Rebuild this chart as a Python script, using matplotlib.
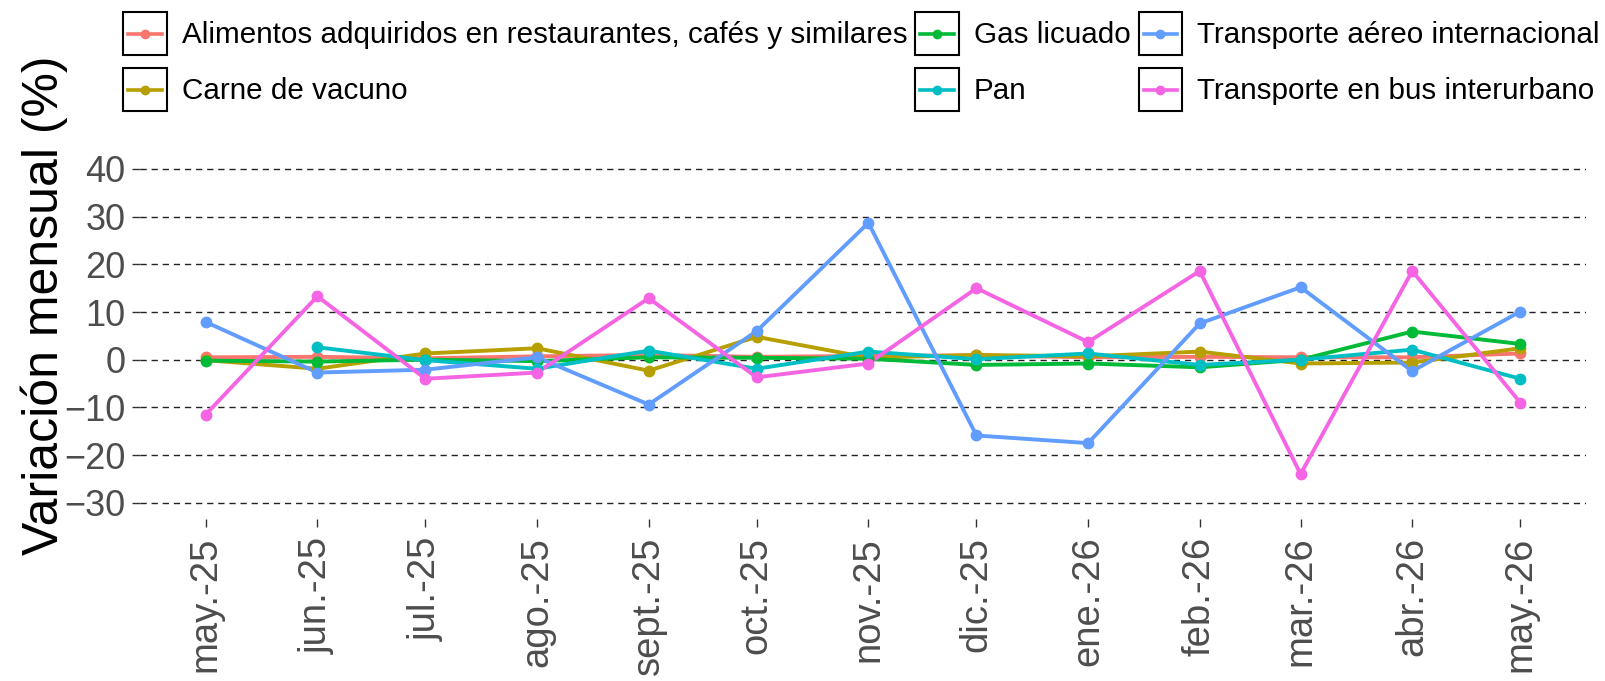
# Load libraries
import numpy as np
import pandas as pd
import matplotlib
matplotlib.use("Agg")
import matplotlib.pyplot as plt
from matplotlib.lines import Line2D
from matplotlib.patches import Rectangle
from matplotlib.legend_handler import HandlerLine2D

plt.rcParams['font.family'] = ['Liberation Sans', 'DejaVu Sans']

# Data (monthly variation, %)
months = pd.date_range('2025-05-01', periods=13, freq='MS')
month_labels = ['may.-25', 'jun.-25', 'jul.-25', 'ago.-25', 'sept.-25', 'oct.-25',
                'nov.-25', 'dic.-25', 'ene.-26', 'feb.-26', 'mar.-26', 'abr.-26', 'may.-26']

alimentos = [0.5, 0.6, 0.3, 0.7, 1.0, 0.6, 0.8, 0.9, 0.5, 0.6, 0.5, 0.5, 1.3]
carne = [-0.1, -1.9, 1.3, 2.4, -2.3, 4.8, 0.4, 1.0, 0.7, 1.7, -0.8, -0.6, 2.4]
gas = [-0.2, -0.4, 0.0, -0.3, 0.5, 0.4, 0.2, -1.1, -0.8, -1.6, 0.0, 5.9, 3.3]
pan = [np.nan, 2.6, -0.1, -1.9, 1.9, -1.9, 1.7, 0.1, 1.3, -1.1, 0.0, 2.1, -4.0]
aereo = [7.9, -2.7, -2.1, 0.5, -9.4, 6.0, 28.7, -15.9, -17.5, 7.6, 15.2, -2.4, 10.1]
bus = [-11.5, 13.3, -4.0, -2.7, 12.9, -3.7, -0.8, 15.0, 3.7, 18.6, -24.0, 18.6, -9.0]

names = ['Alimentos adquiridos en restaurantes, cafés y similares', 'Carne de vacuno',
         'Gas licuado', 'Pan', 'Transporte aéreo internacional', 'Transporte en bus interurbano']
series = [alimentos, carne, gas, pan, aereo, bus]
colors = ['#F8766D', '#B79F00', '#00BA38', '#00BFC4', '#619CFF', '#F564E3']


# legend key with a black box round it, like ggplot
class BoxedLine(HandlerLine2D):
    def create_artists(self, legend, orig_handle, xdescent, ydescent, width, height, fontsize, trans):
        artists = super().create_artists(legend, orig_handle, xdescent, ydescent, width, height, fontsize, trans)
        pad = 0.12 * width
        for a in artists:
            a.set_xdata(np.linspace(-xdescent + pad, -xdescent + width - pad, 3))
            a.set_ydata(np.full(3, -ydescent + height / 2))
        box = Rectangle((-xdescent, -ydescent), width, height, facecolor='none',
                        edgecolor='black', lw=1.5, transform=trans)
        return artists + [box]


fig = plt.figure(figsize=(16.06, 6.81), dpi=100)
ax = fig.add_axes([140 / 1606, 1 - 519.4 / 681, 1446 / 1606, 367.1 / 681])

# lines first, then points on top
for vals, col in zip(series, colors):
    ax.plot(months, vals, color=col, lw=2.8, zorder=3)
for vals, col in zip(series, colors):
    ax.plot(months, vals, color=col, lw=0, marker='o', markersize=7.5, zorder=4)

pad_days = pd.Timedelta(days=18.25)
ax.set_xlim(months[0] - pad_days, months[-1] + pad_days)
ax.set_ylim(-33.5, 43.5)
ax.set_yticks(range(-30, 41, 10))
ax.set_xticks(months)
ax.set_xticklabels(month_labels, rotation=90)

ax.grid(axis='y', color='#222222', lw=1.0, linestyle=(0, (4.5, 3.5)))
ax.grid(axis='x', visible=False)
ax.set_axisbelow(True)
for s in ax.spines.values():
    s.set_visible(False)
ax.tick_params(axis='both', labelcolor='#4D4D4D', color='#333333', length=5.5, width=1.0)
ax.tick_params(axis='x', labelsize=27.5, pad=7)
ax.tick_params(axis='y', labelsize=26, pad=5)

fig.text(58 / 1606, 1 - 305 / 681, 'Variación mensual (%)', rotation=90,
         rotation_mode='anchor', ha='center', va='baseline', fontsize=36, color='black')

# legend
handles = [Line2D([], [], color=c, lw=2.6, marker='o', markersize=6) for c in colors]
fig.legend(handles, names, loc='upper left', bbox_to_anchor=(123 / 1606, 1 - 12 / 681),
           ncol=3, frameon=False, fontsize=21.3, borderpad=0, borderaxespad=0,
           handlelength=1.48, handleheight=1.86, labelspacing=0.45, handletextpad=0.5,
           columnspacing=0.27, handler_map={Line2D: BoxedLine()})

plt.savefig('out.png', dpi=100)
